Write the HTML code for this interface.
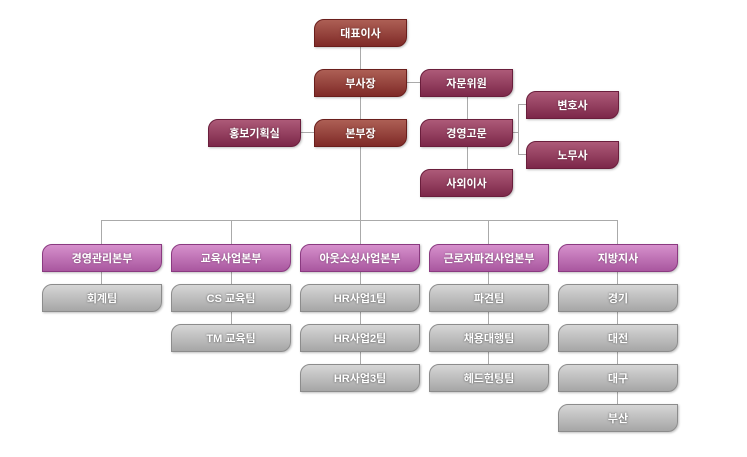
<!DOCTYPE html>
<html><head><meta charset="utf-8"><style>
body{margin:0;width:747px;height:457px;background:#fff;position:relative;overflow:hidden;font-family:"Liberation Sans","Noto Sans CJK KR",sans-serif}
.b{position:absolute;box-sizing:border-box;border-radius:10px 0 10px 0;color:#fff;font-size:11px;font-weight:bold;display:flex;align-items:center;justify-content:center;text-shadow:0 0 2px rgba(0,0,0,.35);box-shadow:1px 1px 2px rgba(0,0,0,.25)}
.r{background:linear-gradient(#ad5f55,#7f2a27);border:1px solid #6a1e1c;width:93px;height:28px}
.m{background:linear-gradient(#ad5a78,#7c2749);border:1px solid #6a1e3c;width:93px;height:28px}
.p{background:linear-gradient(#d690cc,#a9579f);border:1px solid #8a3a80;width:120px;height:28px}
.g{background:linear-gradient(#d6d6d6,#a6a6a6);border:1px solid #8c8c8c;width:120px;height:28px;text-shadow:0 0 2px rgba(0,0,0,.6)}
.h{position:absolute;height:1px;background:#aaa}
.v{position:absolute;width:1px;background:#aaa}
</style></head><body>
<div class="v" style="left:360px;top:46px;height:174px"></div>
<div class="h" style="left:406px;top:82px;width:14px"></div>
<div class="h" style="left:299px;top:132px;width:15px"></div>
<div class="v" style="left:467px;top:96px;height:74px"></div>
<div class="h" style="left:512px;top:132px;width:6px"></div>
<div class="v" style="left:518px;top:104px;height:51px"></div>
<div class="h" style="left:518px;top:104px;width:8px"></div>
<div class="h" style="left:518px;top:154px;width:8px"></div>
<div class="h" style="left:101px;top:220px;width:517px"></div>
<div class="v" style="left:101px;top:220px;height:64px"></div>
<div class="v" style="left:231px;top:220px;height:104px"></div>
<div class="v" style="left:360px;top:220px;height:144px"></div>
<div class="v" style="left:488px;top:220px;height:144px"></div>
<div class="v" style="left:617px;top:220px;height:184px"></div>

<div class="b r" style="left:314px;top:19px">대표이사</div>
<div class="b r" style="left:314px;top:69px">부사장</div>
<div class="b r" style="left:314px;top:119px">본부장</div>
<div class="b m" style="left:420px;top:69px">자문위원</div>
<div class="b m" style="left:208px;top:119px">홍보기획실</div>
<div class="b m" style="left:420px;top:119px">경영고문</div>
<div class="b m" style="left:526px;top:91px">변호사</div>
<div class="b m" style="left:526px;top:141px">노무사</div>
<div class="b m" style="left:420px;top:169px">사외이사</div>

<div class="b p" style="left:42px;top:244px">경영관리본부</div>
<div class="b p" style="left:171px;top:244px">교육사업본부</div>
<div class="b p" style="left:300px;top:244px">아웃소싱사업본부</div>
<div class="b p" style="left:429px;top:244px">근로자파견사업본부</div>
<div class="b p" style="left:558px;top:244px">지방지사</div>

<div class="b g" style="left:42px;top:284px">회계팀</div>
<div class="b g" style="left:171px;top:284px">CS 교육팀</div>
<div class="b g" style="left:171px;top:324px">TM 교육팀</div>
<div class="b g" style="left:300px;top:284px">HR사업1팀</div>
<div class="b g" style="left:300px;top:324px">HR사업2팀</div>
<div class="b g" style="left:300px;top:364px">HR사업3팀</div>
<div class="b g" style="left:429px;top:284px">파견팀</div>
<div class="b g" style="left:429px;top:324px">채용대행팀</div>
<div class="b g" style="left:429px;top:364px">헤드헌팅팀</div>
<div class="b g" style="left:558px;top:284px">경기</div>
<div class="b g" style="left:558px;top:324px">대전</div>
<div class="b g" style="left:558px;top:364px">대구</div>
<div class="b g" style="left:558px;top:404px">부산</div>
</body></html>
